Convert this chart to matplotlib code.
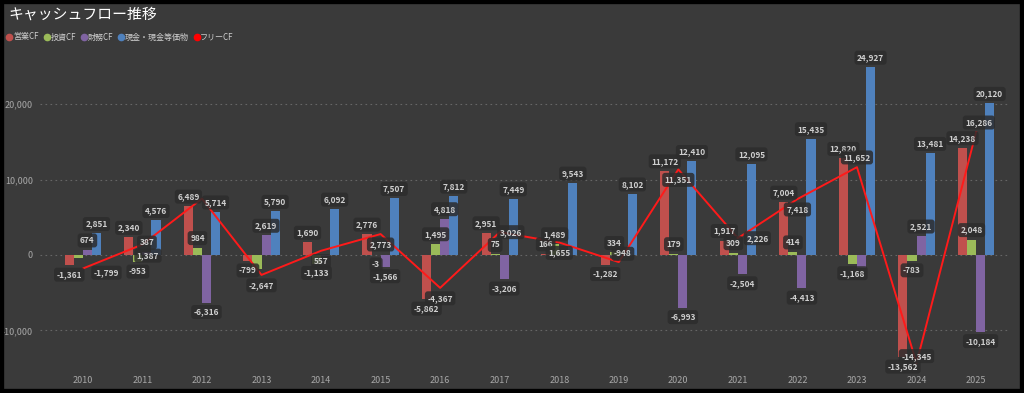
import matplotlib

matplotlib.use("Agg")
import matplotlib.pyplot as plt
import numpy as np
from matplotlib.lines import Line2D
from matplotlib.patches import Rectangle
from matplotlib.ticker import FuncFormatter

plt.rcParams["font.family"] = ["Noto Sans CJK JP", "DejaVu Sans"]

years = [str(y) for y in range(2010, 2026)]
operating_cf = [-1361, 2340, 6489, -799, 1690, 2776, -5862, 2951, 166, -1282,
                11172, 1917, 7004, 12820, -13562, 14238]
investing_cf = [-438, -953, 984, -1848, -1133, -3, 1495, 75, 1489, 334,
                179, 309, 414, -1168, -783, 2048]
financing_cf = [674, 387, -6316, 2619, -180, -1566, 4818, -3206, -40, -120,
                -6993, -2504, -4413, -1750, 2521, -10184]
cash = [2851, 4576, 5714, 5790, 6092, 7507, 7812, 7449, 9543, 8102,
        12410, 12095, 15435, 24927, 13481, 20120]
free_cf = [-1799, 1387, 7473, -2647, 557, 2773, -4367, 3026, 1655, -948,
           11351, 2226, 7418, 11652, -14345, 16286]

series_names = ["営業CF", "投資CF", "財務CF", "現金・現金等価物"]
line_name = "フリーCF"
# labels the reference hides because they overlap others
hidden_labels = {("投資CF", "2010"), ("投資CF", "2013"), ("財務CF", "2014"),
                 ("財務CF", "2018"), ("財務CF", "2019"), ("財務CF", "2023"),
                 ("フリーCF", "2012")}
# free CF labels sit below the point, except where the reference moves them
free_offsets = {"2010": (17, -3), "2011": (4, -8), "2017": (8, 0),
                "2019": (3, 6), "2021": (14, 0),
                "2023": (0, 7), "2024": (0, 5), "2025": (2, 7)}

BG = "#3a3a3a"
colors = ["#c0504d", "#9bbb59", "#8064a2", "#4f81bd"]
line_color = "#ff1a1a"
text_color = "#cfcfcf"
tick_color = "#a8a8a8"

box = {"boxstyle": "round,pad=0.3,rounding_size=0.35", "fc": "#2c2c2c",
       "ec": "none", "alpha": 0.85}


def label(ax, x, v, dx, dy, z=6):
    ax.annotate(f"{v:,}", (x, v), xytext=(dx, dy), textcoords="offset points",
                ha="center", va="center", fontsize=6, color=text_color,
                fontweight="bold", bbox=box, zorder=z)


fig = plt.figure(figsize=(10.24, 3.93), dpi=100, facecolor=BG)
ax = fig.add_axes([40 / 1024, 25 / 393, 970 / 1024, 318 / 393], facecolor=BG)

x = np.arange(len(years))
w = 0.152
for i, (name, vals) in enumerate(zip(series_names, [operating_cf, investing_cf, financing_cf, cash])):
    pos = x + (i - 1.5) * w
    ax.bar(pos, vals, width=w, color=colors[i], zorder=3)
    for xp, v, yr in zip(pos, vals, years):
        if (name, yr) in hidden_labels:
            continue
        label(ax, xp, v, 0, 6.8 if v >= 0 else -6.8)

ax.plot(x, free_cf, color=line_color, lw=1.4, zorder=4)
for xp, v, yr in zip(x, free_cf, years):
    if (line_name, yr) in hidden_labels:
        continue
    dx, dy = free_offsets.get(yr, (0, -7.5))
    label(ax, xp, v, dx, dy, z=7)

ax.set_xlim(-0.72, 15.57)
ax.set_ylim(-15000, 27200)
ax.set_yticks([-10000, 0, 10000, 20000])
ax.yaxis.set_major_formatter(FuncFormatter(lambda v, p: f"{v:,.0f}"))
ax.set_xticks(x)
ax.set_xticklabels(years)
ax.tick_params(length=0, colors=tick_color, labelsize=6.5)
ax.tick_params(axis="y", pad=5)
ax.tick_params(axis="x", pad=6)
ax.grid(axis="y", linestyle=(0, (1.5, 3)), color="#666666", lw=0.8, zorder=0)
for s in ax.spines.values():
    s.set_visible(False)

fig.text(8 / 1024, 1 - 15 / 393, "キャッシュフロー推移", color="white",
         fontsize=10.7, va="center", ha="left")

handles = [Line2D([], [], marker="o", ls="none", ms=4.5, mfc=c, mec=c) for c in colors]
handles.append(Line2D([], [], marker="o", ls="none", ms=4.5, mfc="#ff0000", mec="#ff0000"))
fig.legend(handles, series_names + [line_name], loc="center left",
           bbox_to_anchor=(3 / 1024, 1 - 37 / 393), ncol=5, frameon=False,
           fontsize=5.8, labelcolor=text_color, handletextpad=0.05,
           columnspacing=0.6, handlelength=0.8, borderaxespad=0)

fig.patches.append(Rectangle((0, 0), 1, 1, transform=fig.transFigure,
                             fill=False, ec="black", lw=6, zorder=10))

fig.savefig("out.png", dpi=100, facecolor=BG)
